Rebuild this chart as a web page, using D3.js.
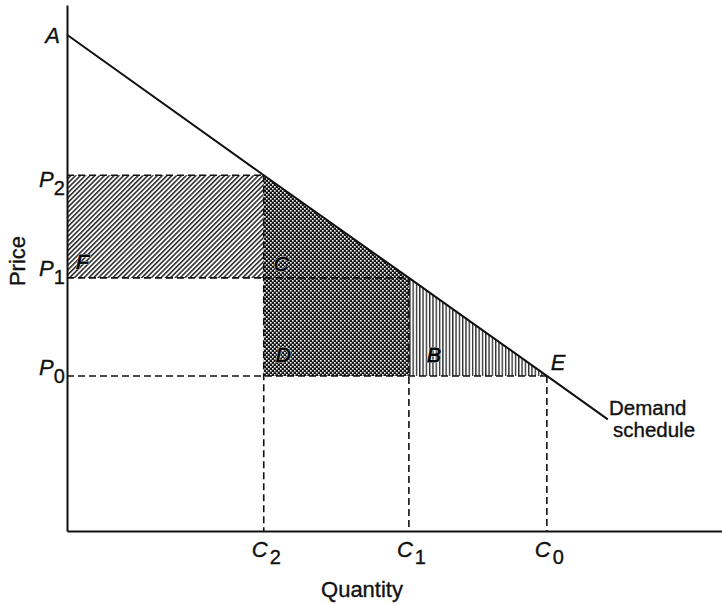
<!DOCTYPE html>
<html>
<head>
<meta charset="utf-8">
<script src="https://cdn.jsdelivr.net/npm/d3@7"></script>
<style>
  body { margin: 0; background: #fff; }
  text { font-family: "Liberation Sans", Arial, sans-serif; }
</style>
</head>
<body>
<div id="chart"></div>
<script>
// demand schedule points (quantity, price)
const demandQ = [0, 41, 71.25, 100, 112.7];
const demandP = [100, 71.7, 51.0, 31.25, 22.5];

// price levels and quantities on the axes
const priceNames = ['P', 'P', 'P'];
const priceSubs = ['2', '1', '0'];
const priceValues = [71.7, 51.0, 31.25];
const qtyNames = ['C', 'C', 'C'];
const qtySubs = ['2', '1', '0'];
const qtyValues = [41, 71.25, 100];

const width = 722;
const height = 604;

const x = d3.scaleLinear().domain([0, 136.5]).range([67, 722]);
const y = d3.scaleLinear().domain([0, 106]).range([531, 5]);

const svg = d3.select('#chart')
    .append('svg')
    .attr('width', width)
    .attr('height', height);

const defs = svg.append('defs');

// diagonal hatch for F
const hatch = defs.append('pattern')
    .attr('id', 'hatch')
    .attr('patternUnits', 'userSpaceOnUse')
    .attr('width', 3.4).attr('height', 10)
    .attr('patternTransform', 'rotate(45)');
hatch.append('rect').attr('width', 3.4).attr('height', 10).attr('fill', '#fff');
hatch.append('line').attr('x1', 0.8).attr('x2', 0.8).attr('y1', 0).attr('y2', 10)
    .attr('stroke', '#111').attr('stroke-width', 1.4);

// dense dotted screen for C and D
const dots = defs.append('pattern')
    .attr('id', 'dots')
    .attr('patternUnits', 'userSpaceOnUse')
    .attr('width', 4).attr('height', 4);
dots.append('rect').attr('width', 4).attr('height', 4).attr('fill', '#151515');
dots.append('rect').attr('x', 0).attr('y', 0).attr('width', 1.6).attr('height', 1.6).attr('fill', '#fff');
dots.append('rect').attr('x', 2).attr('y', 2).attr('width', 1.6).attr('height', 1.6).attr('fill', '#fff');

// vertical lines for B
const vlines = defs.append('pattern')
    .attr('id', 'vlines')
    .attr('patternUnits', 'userSpaceOnUse')
    .attr('width', 3.3).attr('height', 10);
vlines.append('rect').attr('width', 3.3).attr('height', 10).attr('fill', '#fff');
vlines.append('line').attr('x1', 0.7).attr('x2', 0.7).attr('y1', 0).attr('y2', 10)
    .attr('stroke', '#111').attr('stroke-width', 1.2);

const [p2, p1, p0] = priceValues;
const [c2, c1, c0] = qtyValues;
const poly = pts => pts.map(d => [x(d[0]), y(d[1])].join(',')).join(' ');

// areas
svg.append('polygon')
    .attr('points', poly([[0, p2], [c2, p2], [c2, p1], [0, p1]]))
    .attr('fill', 'url(#hatch)');
svg.append('polygon')
    .attr('points', poly([[c2, p2], [c1, p1], [c1, p0], [c2, p0]]))
    .attr('fill', 'url(#dots)');
svg.append('polygon')
    .attr('points', poly([[c1, p1], [c0, p0], [c1, p0]]))
    .attr('fill', 'url(#vlines)');

// dashed guides
const dashed = svg.append('g')
    .attr('stroke', '#111')
    .attr('stroke-width', 1.6)
    .attr('stroke-dasharray', '7,4')
    .attr('fill', 'none');
priceValues.forEach((p, i) => {
    dashed.append('line')
        .attr('x1', x(0)).attr('x2', x(qtyValues[i]))
        .attr('y1', y(p)).attr('y2', y(p));
    dashed.append('line')
        .attr('x1', x(qtyValues[i])).attr('x2', x(qtyValues[i]))
        .attr('y1', y(p)).attr('y2', y(0));
});

// demand schedule
const line = d3.line().x(d => x(d[0])).y(d => y(d[1]));
svg.append('path')
    .datum(demandQ.map((q, i) => [q, demandP[i]]))
    .attr('d', line)
    .attr('fill', 'none')
    .attr('stroke', '#111')
    .attr('stroke-width', 2);

// axes (no ticks)
svg.append('g')
    .attr('transform', `translate(0,${y(0)})`)
    .call(d3.axisBottom(x).tickValues([]).tickSizeOuter(0))
    .select('.domain').attr('stroke', '#111').attr('stroke-width', 2);
svg.append('g')
    .attr('transform', `translate(${x(0)},0)`)
    .call(d3.axisLeft(y).tickValues([]).tickSizeOuter(0))
    .select('.domain').attr('stroke', '#111').attr('stroke-width', 2);

// all plain labels share one group so they get the same ink weight
const labels = svg.append('g')
    .attr('fill', '#111')
    .attr('stroke', '#111')
    .attr('stroke-width', 0.35);

// price labels
const priceDy = [12, -2, -1];
priceValues.forEach((p, i) => {
    const t = labels.append('text')
        .attr('x', 39)
        .attr('y', y(p) + priceDy[i])
        .attr('font-size', 22);
    t.append('tspan').attr('font-style', 'italic').text(priceNames[i]);
    t.append('tspan').attr('dy', 8).attr('font-size', 20).text(priceSubs[i]);
});

// quantity labels
qtyValues.forEach((q, i) => {
    const t = labels.append('text')
        .attr('x', x(q) - 12)
        .attr('y', 557)
        .attr('font-size', 22);
    t.append('tspan').attr('font-style', 'italic').text(qtyNames[i]);
    t.append('tspan').attr('dx', 2).attr('dy', 7).attr('font-size', 20).text(qtySubs[i]);
});

// point letters
labels.append('text').attr('x', x(0) - 7).attr('y', y(100) + 8)
    .attr('text-anchor', 'end').attr('font-size', 22).attr('font-style', 'italic').text('A');
labels.append('text').attr('x', x(c0) + 4).attr('y', y(p0) - 6)
    .attr('font-size', 22).attr('font-style', 'italic').text('E');

// region letters
const areaLetters = ['F', 'C', 'D', 'B'];
const areaAt = [[0, p1, 9, -9], [c2, p1, 10, -7], [c2, p0, 12, -14], [c1, p0, 18, -14]];
const letters = svg.append('g')
    .attr('font-size', 21)
    .attr('font-style', 'italic');
areaLetters.forEach((t, i) => {
    const [q, p, dx, dy] = areaAt[i];
    letters.append('text')
        .attr('x', x(q) + dx).attr('y', y(p) + dy)
        .attr('fill', '#fff').attr('stroke', '#fff')
        .attr('stroke-width', 1.4).attr('stroke-linejoin', 'round')
        .text(t);
    letters.append('text')
        .attr('x', x(q) + dx).attr('y', y(p) + dy)
        .attr('fill', '#000').attr('stroke', '#000').attr('stroke-width', 0.9)
        .text(t);
});

// demand schedule label
labels.append('text').attr('x', 609).attr('y', 415).attr('font-size', 20.5).text('Demand');
labels.append('text').attr('x', 613).attr('y', 437).attr('font-size', 20.5).text('schedule');

// axis titles
labels.append('text')
    .attr('transform', 'translate(25,261) rotate(-90)')
    .attr('text-anchor', 'middle')
    .attr('font-size', 22)
    .text('Price');
labels.append('text')
    .attr('x', 362).attr('y', 597)
    .attr('text-anchor', 'middle')
    .attr('font-size', 22)
    .text('Quantity');
</script>
</body>
</html>
